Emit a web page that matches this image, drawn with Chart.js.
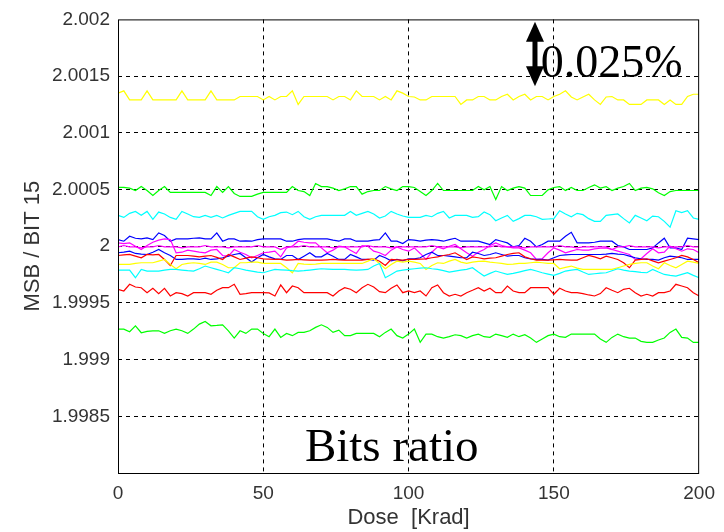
<!DOCTYPE html>
<html>
<head>
<meta charset="utf-8">
<title>MSB / BIT 15</title>
<script src="https://cdn.jsdelivr.net/npm/chart.js@4.4.1/dist/chart.umd.min.js"></script>
<style>
  html, body { margin: 0; padding: 0; background: #fff; }
  #wrap { width: 724px; height: 532px; }
</style>
</head>
<body>
<div id="wrap"><canvas id="ratioChart"></canvas></div>
<script>
// dose points in Krad
const doses = [0, 2, 4, 6, 8, 10, 12, 14, 16, 18, 20, 22, 24, 26, 28, 30, 32, 34, 36, 38,
  40, 42, 44, 46, 48, 50, 52, 54, 56, 58, 60, 62, 64, 66, 68, 70, 72, 74, 76, 78,
  80, 82, 84, 86, 88, 90, 92, 94, 96, 98, 100, 102, 104, 106, 108, 110, 112, 114, 116, 118,
  120, 122, 124, 126, 128, 130, 132, 134, 136, 138, 140, 142, 144, 146, 148, 150, 152, 154, 156, 158,
  160, 162, 164, 166, 168, 170, 172, 174, 176, 178, 180, 182, 184, 186, 188, 190, 192, 194, 196, 198, 200];

const yellowHigh = [2.00135, 2.00137, 2.00129, 2.00129, 2.00129, 2.00137, 2.00129, 2.00129, 2.00129, 2.00129,
  2.00129, 2.00137, 2.00129, 2.00129, 2.00129, 2.00129, 2.00137, 2.00129, 2.00129, 2.00129,
  2.00129, 2.00132, 2.00132, 2.00132, 2.00132, 2.00129, 2.00132, 2.00129, 2.00132, 2.00132,
  2.00137, 2.00125, 2.00132, 2.00132, 2.00132, 2.00132, 2.00132, 2.00129, 2.00132, 2.00132,
  2.00129, 2.00137, 2.00132, 2.00132, 2.00132, 2.00129, 2.00132, 2.00129, 2.00137, 2.00135,
  2.00132, 2.001316, 2.00129, 2.00129, 2.00132, 2.00132, 2.00132, 2.00132, 2.00132, 2.00125,
  2.00129, 2.00129, 2.00132, 2.00132, 2.00129, 2.00129, 2.00132, 2.00134, 2.00129, 2.00132,
  2.00134, 2.00129, 2.00132, 2.00132, 2.00129, 2.00132, 2.00134, 2.00137, 2.001316, 2.00129,
  2.001316, 2.00134, 2.00129, 2.00125, 2.001316, 2.00132, 2.00129, 2.00129, 2.00125, 2.00125,
  2.00125, 2.00129, 2.00129, 2.00129, 2.00125, 2.00129, 2.00125, 2.00125, 2.00132, 2.00134,
  2.00134];

const greenHigh = [2.000518, 2.000518, 2.000512, 2.000491, 2.000526, 2.000491, 2.000447, 2.000491, 2.000526, 2.000474,
  2.000474, 2.000474, 2.000474, 2.000474, 2.000474, 2.000474, 2.000447, 2.000526, 2.000474, 2.000526,
  2.000465, 2.000439, 2.000439, 2.000439, 2.000459, 2.000474, 2.000474, 2.000474, 2.000474, 2.000474,
  2.000526, 2.000491, 2.000482, 2.000447, 2.000553, 2.000526, 2.000526, 2.000512, 2.000491, 2.000506,
  2.000526, 2.000526, 2.000459, 2.000482, 2.000491, 2.000491, 2.000526, 2.000506, 2.000491, 2.000526,
  2.000526, 2.000518, 2.000482, 2.000447, 2.000491, 2.000553, 2.000491, 2.000491, 2.000491, 2.000491,
  2.000491, 2.000491, 2.000526, 2.000497, 2.000526, 2.000412, 2.000526, 2.000491, 2.000512, 2.000526,
  2.000512, 2.000447, 2.000447, 2.000447, 2.000497, 2.000518, 2.000526, 2.000491, 2.000518, 2.000491,
  2.000491, 2.000518, 2.000541, 2.000512, 2.000526, 2.000491, 2.000512, 2.000526, 2.000553, 2.000491,
  2.000512, 2.000518, 2.000506, 2.000471, 2.000447, 2.000482, 2.000491, 2.000491, 2.000491, 2.000491,
  2.000491];

const cyanHigh = [2.000272, 2.000254, 2.00029, 2.000307, 2.000272, 2.000307, 2.000237, 2.000301, 2.000284, 2.000254,
  2.000237, 2.000307, 2.000284, 2.00026, 2.000254, 2.000272, 2.000254, 2.000272, 2.000249, 2.000272,
  2.00029, 2.000307, 2.000307, 2.000307, 2.00026, 2.000237, 2.00026, 2.000272, 2.000296, 2.000301,
  2.000278, 2.000307, 2.00026, 2.000237, 2.00026, 2.000272, 2.000272, 2.000272, 2.000272, 2.000272,
  2.000307, 2.000272, 2.00029, 2.000307, 2.000284, 2.000249, 2.000266, 2.000307, 2.000284, 2.000266,
  2.000254, 2.000254, 2.000254, 2.000272, 2.00026, 2.00029, 2.000307, 2.000249, 2.000272, 2.000272,
  2.000272, 2.000254, 2.00026, 2.000301, 2.000278, 2.000225, 2.000249, 2.000272, 2.000219, 2.000243,
  2.000272, 2.000272, 2.00026, 2.000237, 2.00024, 2.000243, 2.000313, 2.000284, 2.00026, 2.00029,
  2.000278, 2.000243, 2.000219, 2.000219, 2.000272, 2.000278, 2.000284, 2.000243, 2.000205, 2.000272,
  2.000249, 2.000225, 2.000266, 2.00026, 2.000219, 2.000167, 2.000313, 2.000296, 2.000313, 2.000249,
  2.000237];

const blueHigh = [2.000058, 2.000044, 2.000088, 2.00007, 2.000064, 2.000073, 2.000058, 2.000117, 2.000094, 2.000044,
  2.000064, 2.000064, 2.000064, 2.00007, 2.000073, 2.000064, 2.000064, 2.000117, 2.000044, 2.000064,
  2.000064, 2.000044, 2.000047, 2.000044, 2.000058, 2.000064, 2.000064, 2.000064, 2.000064, 2.000044,
  2.000044, 2.000058, 2.000064, 2.000064, 2.000064, 2.000064, 2.000064, 2.000053, 2.000044, 2.000064,
  2.000064, 2.000044, 2.000044, 2.000044, 2.000053, 2.000058, 2.000117, 2.000044, 2.000044, 2.000023,
  2.000058, 2.000053, 2.000044, 2.000053, 2.000058, 2.000053, 2.000044, 2.000058, 2.00007, 2.000044,
  2.000044, 2.000044, 2.000044, 2.000029, 2.000015, 2.000058, 2.000044, 2.000029, 1.999994, 2.000006,
  2.00007, 2.000044, 1.999994, 2.000015, 2.000044, 2.000044, 2.000044, 2.000088, 2.000123, 2.000029,
  2.000029, 2.000029, 2.000035, 2.000044, 2.000044, 2.000044, 2.000006, 1.999994, 1.999971, 1.999971,
  1.999971, 1.999971, 1.999985, 2.000029, 2.00007, 1.999985, 1.999985, 1.999971, 2.00007, 2.000064,
  2.000058];

const magentaFlat = [1.999994, 2.000006, 1.999994, 1.999994, 1.999985, 1.999994, 1.999994, 2.000006, 1.999994, 1.999994,
  1.999994, 1.999985, 1.999994, 1.999994, 1.999994, 2.000006, 1.999994, 1.999994, 1.999994, 1.999985,
  1.999994, 1.999994, 1.999994, 1.999994, 2.000006, 1.999994, 1.999994, 1.999994, 1.999971, 1.999994,
  1.999994, 1.999994, 2.000006, 1.999994, 1.999994, 1.999994, 1.999994, 1.999985, 1.999994, 1.999994,
  1.999994, 1.999994, 1.999994, 2.000006, 1.999994, 1.999994, 1.999994, 1.999985, 1.999994, 1.999994,
  1.999994, 1.999994, 1.999994, 1.999994, 2.000006, 1.999994, 1.999994, 1.999994, 1.999994, 1.999985,
  1.999994, 1.999994, 1.999994, 1.999994, 1.999994, 2.000006, 1.999994, 1.999994, 1.999994, 1.999994,
  1.999985, 1.999994, 1.999994, 1.999994, 1.999994, 1.999994, 2.000006, 1.999994, 1.999994, 1.999985,
  1.999994, 1.999994, 1.999994, 1.999994, 1.999994, 1.999971, 1.999994, 1.999994, 2.000006, 1.999994,
  1.999994, 1.999994, 1.999994, 1.999985, 1.999994, 1.999994, 1.999994, 1.999994, 2.000006, 1.999994,
  1.999994];

const magentaWide = [2.000029, 2.000023, 2.000029, 2.0, 1.999971, 2.000006, 2.000035, 2.000053, 2.000064, 2.000058,
  1.999942, 1.999947, 1.999965, 1.999956, 1.999947, 1.999942, 1.999965, 1.999971, 1.999918, 1.999912,
  1.999971, 1.999947, 1.999927, 1.999898, 1.999918, 1.999942, 1.999947, 1.999956, 1.999906, 1.999985,
  2.0, 2.000044, 2.000035, 2.000029, 2.000029, 1.999985, 1.999942, 1.999965, 2.0, 1.999994,
  1.999965, 1.999936, 2.000006, 2.0, 1.999956, 1.999942, 1.999918, 1.999965, 1.999994, 1.999971,
  1.999956, 1.999985, 1.999936, 1.999883, 1.999947, 1.999994, 1.999977, 2.0, 2.000015, 1.999977,
  1.999942, 1.999912, 1.999947, 1.999971, 2.000006, 2.000029, 2.000006, 1.999994, 1.999985, 1.999985,
  1.999965, 1.999942, 1.999883, 1.999889, 1.999942, 1.999985, 1.999965, 1.999942, 1.999956, 1.999971,
  1.999965, 1.999965, 1.999977, 1.999982, 1.999985, 1.999971, 1.999956, 1.999942, 1.999927, 1.999883,
  1.999889, 1.999936, 1.999977, 1.999942, 1.999947, 2.0, 1.999977, 1.999956, 1.999977, 1.999971,
  1.999942];

const blueLow = [1.999942, 1.999947, 1.999956, 1.999936, 1.99993, 1.999927, 1.999947, 1.999971, 1.999942, 1.999918,
  1.999883, 1.999883, 1.999889, 1.999889, 1.999883, 1.999895, 1.999883, 1.999889, 1.999898, 1.999912,
  1.999927, 1.999936, 1.999898, 1.99986, 1.999898, 1.999927, 1.999906, 1.999889, 1.999883, 1.999918,
  1.999918, 1.999883, 1.999912, 1.999942, 1.999906, 1.999906, 1.999936, 1.999912, 1.999883, 1.999883,
  1.999927, 1.999906, 1.999883, 1.999883, 1.999877, 1.999918, 1.999898, 1.999871, 1.999883, 1.999871,
  1.999889, 1.999889, 1.999898, 1.999927, 1.999947, 1.999918, 1.999918, 1.999912, 1.999906, 1.999898,
  1.999898, 1.999947, 1.999936, 1.999918, 1.999927, 1.999942, 1.999927, 1.999912, 1.999918, 1.999918,
  1.999898, 1.999889, 1.999883, 1.999883, 1.999877, 1.999898, 1.999918, 1.999924, 1.999927, 1.999927,
  1.999927, 1.999927, 1.999927, 1.999927, 1.99993, 1.999936, 1.99993, 1.999927, 1.999912, 1.999898,
  1.999889, 1.999883, 1.999883, 1.999877, 1.999898, 1.999912, 1.999906, 1.999898, 1.999883, 1.999883,
  1.999883];

const redMid = [1.999918, 1.999924, 1.999927, 1.999912, 1.999898, 1.999927, 1.999924, 1.999927, 1.999883, 1.99983,
  1.999918, 1.999918, 1.999918, 1.999912, 1.999906, 1.999912, 1.999918, 1.999901, 1.999883, 1.999927,
  1.999906, 1.999883, 1.999895, 1.999906, 1.999898, 1.999889, 1.999886, 1.999883, 1.999883, 1.999877,
  1.99988, 1.999883, 1.99988, 1.999877, 1.999877, 1.999877, 1.99988, 1.999883, 1.99988, 1.999877,
  1.999877, 1.999877, 1.999877, 1.999883, 1.999889, 1.999868, 1.99983, 1.999883, 1.99988, 1.999877,
  1.999883, 1.999883, 1.999886, 1.999889, 1.999898, 1.999906, 1.999918, 1.999927, 1.999942, 1.999912,
  1.999883, 1.999906, 1.999898, 1.999889, 1.999895, 1.999898, 1.999912, 1.999927, 1.999936, 1.999942,
  1.999906, 1.999889, 1.999877, 1.999877, 1.999877, 1.99988, 1.999883, 1.99988, 1.999877, 1.999877,
  1.999898, 1.999918, 1.999906, 1.999889, 1.999912, 1.999898, 1.999883, 1.999854, 1.99981, 1.999877,
  1.999883, 1.999889, 1.999871, 1.999854, 1.999868, 1.999883, 1.999898, 1.999918, 1.999906, 1.999883,
  1.999854];

const yellowLow = [1.999839, 1.999839, 1.999839, 1.999848, 1.999854, 1.999854, 1.999854, 1.999868, 1.999883, 1.999839,
  1.999801, 1.999839, 1.999848, 1.999854, 1.999848, 1.999839, 1.99986, 1.99986, 1.999839, 1.99981,
  1.99981, 1.999854, 1.999854, 1.99986, 1.99986, 1.999848, 1.999848, 1.999848, 1.999848, 1.99981,
  1.999766, 1.999848, 1.999842, 1.999839, 1.999842, 1.999848, 1.999848, 1.999848, 1.999848, 1.999848,
  1.999848, 1.999848, 1.999848, 1.999868, 1.999889, 1.999848, 1.999801, 1.999839, 1.999868, 1.99986,
  1.999868, 1.99986, 1.999848, 1.999795, 1.99983, 1.999854, 1.999848, 1.999868, 1.999883, 1.99986,
  1.999848, 1.99986, 1.999866, 1.999868, 1.99986, 1.999854, 1.999848, 1.999839, 1.999842, 1.999848,
  1.999848, 1.999854, 1.99986, 1.999854, 1.999848, 1.999848, 1.999801, 1.999813, 1.999825, 1.999807,
  1.999795, 1.999795, 1.999795, 1.999795, 1.999795, 1.999795, 1.99981, 1.999825, 1.999839, 1.999848,
  1.999854, 1.999854, 1.999825, 1.999801, 1.999854, 1.99983, 1.99981, 1.999839, 1.999868, 1.99986,
  1.999848];

const cyanLow = [1.999789, 1.999789, 1.999789, 1.999722, 1.999795, 1.999781, 1.999781, 1.999781, 1.999789, 1.999795,
  1.999795, 1.999789, 1.999784, 1.999781, 1.999801, 1.999825, 1.99981, 1.999795, 1.999781, 1.999766,
  1.99981, 1.999801, 1.999789, 1.999781, 1.999772, 1.999766, 1.999781, 1.999795, 1.999792, 1.999789,
  1.999784, 1.999781, 1.999784, 1.999789, 1.999795, 1.999801, 1.999798, 1.999795, 1.999795, 1.999795,
  1.999792, 1.999789, 1.999792, 1.999795, 1.999825, 1.999848, 1.999722, 1.999751, 1.999781, 1.999789,
  1.999795, 1.999801, 1.999807, 1.99981, 1.999801, 1.999795, 1.999784, 1.999772, 1.999781, 1.999789,
  1.999795, 1.99981, 1.999772, 1.999737, 1.99976, 1.999781, 1.999766, 1.999751, 1.99976, 1.999772,
  1.999784, 1.999795, 1.999781, 1.999766, 1.999754, 1.999743, 1.99976, 1.999781, 1.999789, 1.999795,
  1.999772, 1.999751, 1.999757, 1.999763, 1.999766, 1.999784, 1.999801, 1.999789, 1.999781, 1.999775,
  1.999769, 1.999766, 1.999795, 1.999772, 1.999751, 1.999743, 1.999737, 1.999751, 1.999766, 1.999743,
  1.999722];

const redLow = [1.99962, 1.999605, 1.999664, 1.99964, 1.999634, 1.99959, 1.999629, 1.999582, 1.999629, 1.999561,
  1.99959, 1.999582, 1.999561, 1.99959, 1.99959, 1.99959, 1.999576, 1.999611, 1.999634, 1.999634,
  1.999664, 1.999576, 1.999582, 1.99959, 1.99959, 1.99959, 1.999588, 1.999561, 1.999658, 1.99959,
  1.999649, 1.999634, 1.99959, 1.99959, 1.99959, 1.99959, 1.99959, 1.999561, 1.999605, 1.999634,
  1.99962, 1.99959, 1.999634, 1.999664, 1.99964, 1.999599, 1.99959, 1.999629, 1.999658, 1.99959,
  1.999605, 1.99959, 1.999605, 1.999561, 1.999634, 1.999658, 1.99959, 1.999561, 1.999576, 1.999561,
  1.99959, 1.999611, 1.999634, 1.999605, 1.999629, 1.99959, 1.99959, 1.999649, 1.999605, 1.99959,
  1.99959, 1.999634, 1.999634, 1.999634, 1.999634, 1.999576, 1.999629, 1.999605, 1.99959, 1.99959,
  1.999582, 1.99957, 1.999561, 1.999582, 1.999634, 1.999611, 1.99959, 1.99962, 1.999629, 1.99959,
  1.999561, 1.999576, 1.999561, 1.99959, 1.99959, 1.999605, 1.999664, 1.999649, 1.999634, 1.99959,
  1.999561];

const greenLow = [1.999269, 1.999269, 1.999246, 1.999298, 1.999237, 1.999249, 1.999254, 1.999254, 1.999231, 1.999254,
  1.999269, 1.999254, 1.999231, 1.999269, 1.999313, 1.999336, 1.999298, 1.999301, 1.999307, 1.999254,
  1.99919, 1.999254, 1.999231, 1.999269, 1.999269, 1.999231, 1.999202, 1.999269, 1.999196, 1.999231,
  1.999211, 1.99924, 1.99924, 1.999254, 1.999284, 1.999307, 1.999284, 1.99924, 1.99926, 1.999211,
  1.999211, 1.999231, 1.999231, 1.999231, 1.999231, 1.999202, 1.99924, 1.999269, 1.999211, 1.99919,
  1.999225, 1.999269, 1.999152, 1.999225, 1.999225, 1.999202, 1.99919, 1.999202, 1.999219, 1.999211,
  1.99919, 1.999211, 1.999225, 1.999202, 1.999196, 1.999225, 1.999211, 1.999196, 1.999225, 1.999202,
  1.999219, 1.99919, 1.999152, 1.999181, 1.999211, 1.999225, 1.999202, 1.999196, 1.999225, 1.999225,
  1.999225, 1.999225, 1.999225, 1.999181, 1.999152, 1.999196, 1.999225, 1.999202, 1.99919, 1.99919,
  1.999161, 1.999152, 1.999152, 1.999173, 1.99919, 1.99924, 1.999269, 1.999196, 1.99919, 1.999152,
  1.999152];

const xTickValues = [0, 50, 100, 150, 200];
const yTickValues = [1.998, 1.9985, 1.999, 1.9995, 2, 2.0005, 2.001, 2.0015, 2.002];
const yTickLabels = ['', '1.9985', '1.999', '1.9995', '2', '2.0005', '2.001', '2.0015', '2.002'];

// span marked by the double arrow, and its label
const spanDose = 143.5;
const spanTop = 2.00198;
const spanBottom = 2.00141;
const spanLabel = '0.025%';
const plotLabel = 'Bits ratio';

const series = [
  { values: yellowHigh, color: '#ffff00' },
  { values: greenHigh, color: '#00ff00' },
  { values: cyanHigh, color: '#00ffff' },
  { values: cyanLow, color: '#00ffff' },
  { values: yellowLow, color: '#ffff00' },
  { values: redMid, color: '#ff0000' },
  { values: blueLow, color: '#0000ff' },
  { values: magentaWide, color: '#ff00ff' },
  { values: magentaFlat, color: '#ff00ff' },
  { values: blueHigh, color: '#0000ff' },
  { values: redLow, color: '#ff0000' },
  { values: greenLow, color: '#00ff00' }
];

const datasets = series.map(s => ({
  data: s.values.map((v, i) => ({ x: doses[i], y: v })),
  borderColor: s.color,
  borderWidth: 1.2,
  pointRadius: 0,
  fill: false,
  tension: 0
}));

// box around the plot plus the text and arrow drawn on top of it
const boxAndNotes = {
  id: 'boxAndNotes',
  afterDraw(chart) {
    const { ctx, chartArea: a, scales } = chart;
    const xs = scales.x, ys = scales.y;
    ctx.save();
    ctx.strokeStyle = '#000';
    ctx.lineWidth = 1;
    ctx.setLineDash([]);
    ctx.strokeRect(a.left + 0.5, a.top + 0.5, a.right - a.left - 1, a.bottom - a.top);

    // double arrow
    const ax = xs.getPixelForValue(spanDose);
    const y1 = ys.getPixelForValue(spanTop);
    const y2 = ys.getPixelForValue(spanBottom);
    const head = 20, hw = 9;
    ctx.fillStyle = '#000';
    ctx.fillRect(ax - 2.5, y1 + head - 2, 5, (y2 - y1) - 2 * head + 4);
    ctx.beginPath();
    ctx.moveTo(ax, y1); ctx.lineTo(ax + hw, y1 + head); ctx.lineTo(ax - hw, y1 + head);
    ctx.closePath(); ctx.fill();
    ctx.beginPath();
    ctx.moveTo(ax, y2); ctx.lineTo(ax + hw, y2 - head); ctx.lineTo(ax - hw, y2 - head);
    ctx.closePath(); ctx.fill();

    ctx.textBaseline = 'alphabetic';
    ctx.font = '46px "Liberation Serif", "Times New Roman", serif';
    ctx.textAlign = 'left';
    ctx.fillText(spanLabel, xs.getPixelForValue(145.5), ys.getPixelForValue(2.0015) + 1);
    ctx.font = '47px "Liberation Serif", "Times New Roman", serif';
    ctx.textAlign = 'center';
    ctx.fillText(plotLabel, xs.getPixelForValue(94.2), ys.getPixelForValue(1.99811));
    ctx.restore();
  }
};

const gridColor = edgeValues => c => (c.tick && edgeValues.includes(c.tick.value)) ? 'rgba(0,0,0,0)' : '#000';
const sans = '"Liberation Sans", Arial, sans-serif';

new Chart(document.getElementById('ratioChart'), {
  type: 'line',
  data: { datasets },
  options: {
    responsive: true,
    maintainAspectRatio: false,
    animation: false,
    layout: { padding: { top: 16, right: 22, left: 0, bottom: 0 } },
    plugins: { legend: { display: false }, tooltip: { enabled: false } },
    scales: {
      x: {
        type: 'linear',
        min: 0,
        max: 200,
        afterBuildTicks: s => { s.ticks = xTickValues.map(v => ({ value: v })); },
        afterFit: s => { s.height = 59; },
        ticks: { color: '#333', font: { family: sans, size: 19 }, padding: 9, maxRotation: 0 },
        grid: { color: gridColor([0, 200]), drawTicks: false, lineWidth: 1 },
        border: { display: false, dash: [4, 4] },
        title: { display: true, text: 'Dose  [Krad]', color: '#333', font: { family: sans, size: 22 }, padding: { top: 0, bottom: 1 } }
      },
      y: {
        type: 'linear',
        min: 1.998,
        max: 2.002,
        afterBuildTicks: s => { s.ticks = yTickValues.map(v => ({ value: v })); },
        afterFit: s => { s.width = 118; },
        ticks: { color: '#333', font: { family: sans, size: 19 }, padding: 8, callback: (v, i) => yTickLabels[i] },
        grid: { color: gridColor([1.998, 2.002]), drawTicks: false, lineWidth: 1 },
        border: { display: false, dash: [4, 4] },
        title: { display: true, text: 'MSB / BIT 15', color: '#333', font: { family: sans, size: 22 }, padding: { top: 20, bottom: 0 } }
      }
    }
  },
  plugins: [boxAndNotes]
});
</script>
</body>
</html>
